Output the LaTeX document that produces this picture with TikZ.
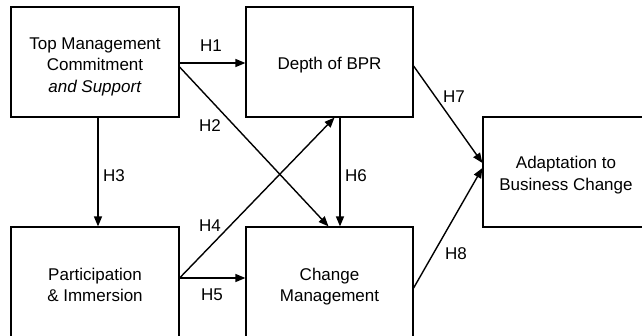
\documentclass[tikz,border=0pt]{standalone}
\usepackage{fontspec}
\setmainfont{Liberation Sans}
\usetikzlibrary{arrows.meta}
\begin{document}
\begin{tikzpicture}[x=1pt,y=-1pt,
  box/.style={draw,line width=1.2pt,rectangle,inner sep=0pt},
  txt/.style={inner sep=0pt,align=center,font=\fontsize{17}{21.5}\selectfont},
  link/.style={line width=1.4pt,-{Triangle[length=10pt,width=8pt]}},
  hlab/.style={font=\fontsize{17}{21.5}\selectfont,inner sep=0pt}]
\useasboundingbox (0,0) rectangle (642,335);
\clip (0,0) rectangle (642,335);
\node[box,minimum width=168pt,minimum height=110pt] (tm) at (95,62) {};
\node[box,minimum width=167pt,minimum height=110pt] (bpr) at (329.5,62) {};
\node[box,minimum width=168pt,minimum height=116pt] (pi) at (95,285) {};
\node[box,minimum width=167pt,minimum height=116pt] (cm) at (329.5,285) {};
\node[box,minimum width=166pt,minimum height=110pt] (ad) at (566,172) {};
\node[txt] (tmt) at ([yshift=-4.5pt]tm.center) {Top Management\\Commitment\\\textit{and Support}};
\node[txt] (bprt) at ([yshift=-3pt]bpr.center) {Depth of BPR};
\node[txt] (pit) at (pi.center) {Participation\\\& Immersion};
\node[txt] (cmt) at ([yshift=-1.5pt]cm.center) {Change\\Management};
\node[txt] (adt) at ([yshift=-3pt]ad.center) {Adaptation to\\Business Change};
\draw[link] ([yshift=-1pt]tm.east) -- ([yshift=-1pt]bpr.west);
\draw[link] ([yshift=-5pt]tm.east) -- ([xshift=-1pt]cm.north);
\draw[link] ([xshift=3pt]tm.south) -- ([xshift=3pt]pi.north);
\draw[link] ([yshift=7pt]pi.east) -- ([xshift=5pt]bpr.south);
\draw[link] ([yshift=7pt]pi.east) -- ([yshift=7pt]cm.west);
\draw[link] ([xshift=10.5pt]bpr.south) -- ([xshift=10.5pt]cm.north);
\draw[link] ([yshift=-4pt]bpr.east) -- ([yshift=9pt]ad.west);
\draw[link] ([yshift=-3pt]cm.east) -- ([yshift=4pt]ad.west);
\node[hlab] (h1) at (211,46) {H1};
\node[hlab] (h2) at (210,126) {H2};
\node[hlab] (h3) at (114,176) {H3};
\node[hlab] (h4) at (210,226) {H4};
\node[hlab] (h5) at (212,295) {H5};
\node[hlab] (h6) at (356,176) {H6};
\node[hlab] (h7) at (454,97) {H7};
\node[hlab] (h8) at (456,254) {H8};
\end{tikzpicture}
\end{document}
